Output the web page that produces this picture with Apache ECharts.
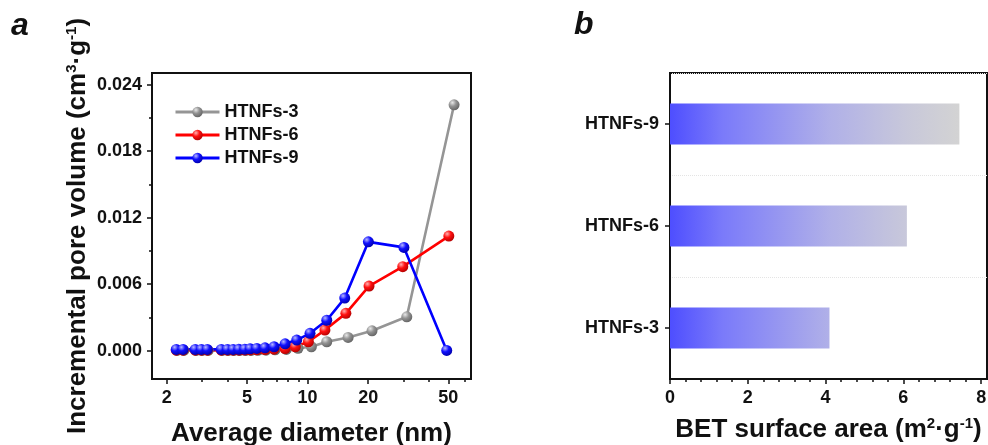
<!DOCTYPE html>
<html>
<head>
<meta charset="utf-8">
<script src="https://cdn.jsdelivr.net/npm/echarts@6/dist/echarts.min.js"></script>
<style>
html,body{margin:0;padding:0;background:#fff;}
#chart{width:988px;height:445px;}
</style>
</head>
<body>
<div id="chart"></div>
<script>
// Panel a: BJH pore size distribution, average pore diameter (nm) vs incremental pore volume
const diamHTNFs3 = [2.25, 2.43, 2.8, 3.0, 3.21, 3.77, 4.04, 4.31, 4.61, 4.93, 5.25, 5.67, 6.22, 6.9, 7.84, 8.97, 10.45, 12.46, 15.9, 20.9, 31.1, 53.4];
const volHTNFs3  = [0.00003, 0.00003, 0.00003, 0.00003, 0.00003, 0.00003, 0.00003, 0.00003, 0.00003, 0.00003, 0.00003, 0.00004, 0.00005, 0.00008, 0.00012, 0.00022, 0.00036, 0.00081, 0.00120, 0.00180, 0.00306, 0.02218];

const diamHTNFs6 = [2.23, 2.41, 2.77, 2.97, 3.18, 3.73, 4.0, 4.27, 4.56, 4.88, 5.19, 5.6, 6.15, 6.82, 7.74, 8.7, 10.1, 12.2, 15.5, 20.2, 29.7, 50.3];
const volHTNFs6  = [0.00005, 0.00005, 0.00005, 0.00005, 0.00005, 0.00005, 0.00005, 0.00005, 0.00005, 0.00006, 0.00007, 0.00008, 0.00010, 0.00014, 0.00020, 0.00036, 0.00081, 0.00186, 0.00337, 0.00583, 0.00758, 0.01034];

const diamHTNFs9 = [2.23, 2.41, 2.77, 2.97, 3.18, 3.73, 4.0, 4.27, 4.56, 4.88, 5.19, 5.6, 6.15, 6.82, 7.74, 8.84, 10.29, 12.46, 15.3, 20.05, 30.1, 49.1];
const volHTNFs9  = [0.00012, 0.00012, 0.00012, 0.00012, 0.00012, 0.00012, 0.00012, 0.00012, 0.00013, 0.00014, 0.00017, 0.00021, 0.00026, 0.00036, 0.00062, 0.00096, 0.00157, 0.00275, 0.00475, 0.00982, 0.00932, 0.00003];

const diamTicks      = [2, 5, 10, 20, 50];
const diamMinorTicks = [3, 4, 6, 7, 8, 9, 30, 40, 60];
const volTicks       = [0, 0.006, 0.012, 0.018, 0.024];
const volMinorTicks  = [0.003, 0.009, 0.015, 0.021];

// Panel b: BET specific surface area (m2/g)
const samples = ['HTNFs-3', 'HTNFs-6', 'HTNFs-9'];
const betArea = [4.10, 6.09, 7.44];
const areaTicks      = [0, 2, 4, 6, 8];
const areaMinorTicks = [0.4, 0.8, 1.2, 1.6, 2.4, 2.8, 3.2, 3.6, 4.4, 4.8, 5.2, 5.6, 6.4, 6.8, 7.2, 7.6];

const FONT = '"Liberation Sans", Arial, sans-serif';
const INK = '#111111';

function pairs(xs, ys) { return xs.map((x, i) => [x, ys[i]]); }

function sphere(light, base, dark) {
  return new echarts.graphic.RadialGradient(0.35, 0.3, 0.75, [
    { offset: 0, color: light },
    { offset: 0.45, color: base },
    { offset: 1, color: dark }
  ]);
}

const tickLabel = { color: INK, fontFamily: FONT, fontWeight: 'bold', fontSize: 18 };
const nameRich = {
  a: { fontFamily: FONT, fontWeight: 'bold', fontSize: 26, color: INK },
  s: { fontFamily: FONT, fontWeight: 'bold', fontSize: 15, color: INK, verticalAlign: 'top', padding: [0, 0, 13, 0] }
};
const axisLine = { show: true, onZero: false, lineStyle: { color: INK, width: 2 } };
const majorTick = (vals) => ({ show: true, customValues: vals, length: 5, lineStyle: { color: INK, width: 1.5 } });
const minorTickAxis = (vals) => ({ show: true, customValues: vals, length: 3, lineStyle: { color: INK, width: 1.5 } });

function lineSeries(name, xs, ys, lineColor, ball) {
  return {
    name: name,
    type: 'line',
    xAxisIndex: 0,
    yAxisIndex: 0,
    data: pairs(xs, ys),
    symbol: 'circle',
    symbolSize: 11,
    lineStyle: { color: lineColor, width: 2.6 },
    itemStyle: { color: ball },
    emphasis: { disabled: true },
    animation: false
  };
}

const chart = echarts.init(document.getElementById('chart'), null, { renderer: 'canvas' });

const option = {
  animation: false,
  backgroundColor: '#ffffff',
  graphic: [
    { type: 'text', left: 11, top: 10, style: { text: 'a', fill: INK, font: 'italic bold 32px ' + FONT } },
    { type: 'text', left: 574, top: 9, style: { text: 'b', fill: INK, font: 'italic bold 32px ' + FONT } }
  ],
  grid: [
    { left: 152, right: 517, top: 73, bottom: 66, outerBoundsMode: 'none', show: true, borderColor: INK, borderWidth: 2, backgroundColor: 'transparent' },
    { left: 670, right: 1, top: 73, bottom: 66, outerBoundsMode: 'none', show: true, borderColor: INK, borderWidth: 2, backgroundColor: 'transparent' }
  ],
  legend: {
    left: 174, top: 103, orient: 'vertical', padding: 0,
    itemWidth: 44, itemHeight: 13, itemGap: 5,
    lineStyle: { width: 3 },
    textStyle: { color: INK, fontFamily: FONT, fontWeight: 'bold', fontSize: 18 },
    data: ['HTNFs-3', 'HTNFs-6', 'HTNFs-9']
  },
  xAxis: [
    {
      type: 'log', gridIndex: 0, logBase: 10, min: 1.69, max: 64.8, position: 'bottom',
      axisLine: axisLine,
      axisTick: majorTick(diamTicks),
      axisLabel: { customValues: diamTicks, formatter: v => String(Math.round(v)), margin: 10, ...tickLabel },
      splitLine: { show: false }, minorTick: { show: false },
      name: 'Average diameter (nm)', nameLocation: 'middle', nameGap: 42,
      nameTextStyle: { fontFamily: FONT, fontWeight: 'bold', fontSize: 26, color: INK }
    },
    {
      type: 'log', gridIndex: 0, logBase: 10, min: 1.69, max: 64.8, position: 'bottom',
      axisLine: { show: false, onZero: false },
      axisTick: minorTickAxis(diamMinorTicks),
      axisLabel: { show: false }, splitLine: { show: false }
    },
    {
      type: 'value', gridIndex: 1, min: 0, max: 8.15, position: 'bottom',
      axisLine: axisLine,
      axisTick: majorTick(areaTicks),
      axisLabel: { customValues: areaTicks, margin: 10, ...tickLabel },
      splitLine: { show: false },
      name: '{a|BET surface area (m}{s|2}{a|·g}{s|-1}{a|)}', nameLocation: 'middle', nameGap: 37,
      nameTextStyle: { rich: nameRich }
    },
    {
      type: 'value', gridIndex: 1, min: 0, max: 8.15, position: 'bottom',
      axisLine: { show: false, onZero: false },
      axisTick: minorTickAxis(areaMinorTicks),
      axisLabel: { show: false }, splitLine: { show: false }
    }
  ],
  yAxis: [
    {
      type: 'value', gridIndex: 0, min: -0.00255, max: 0.02505, position: 'left',
      axisLine: axisLine,
      axisTick: majorTick(volTicks),
      axisLabel: { customValues: volTicks, formatter: v => v.toFixed(3), margin: 10, ...tickLabel },
      splitLine: { show: false },
      name: '{a|Incremental pore volume (cm}{s|3}{a|·g}{s|-1}{a|)}', nameLocation: 'middle', nameGap: 60,
      nameRotate: 90,
      nameTextStyle: { rich: nameRich }
    },
    {
      type: 'value', gridIndex: 0, min: -0.00255, max: 0.02505, position: 'left',
      axisLine: { show: false, onZero: false },
      axisTick: minorTickAxis(volMinorTicks),
      axisLabel: { show: false }, splitLine: { show: false }
    },
    {
      type: 'category', gridIndex: 1, data: samples, position: 'left',
      axisLine: axisLine,
      axisTick: { show: true, alignWithLabel: true, length: 5, lineStyle: { color: INK, width: 1.5 } },
      axisLabel: { margin: 11, ...tickLabel },
      splitLine: { show: true, lineStyle: { color: '#e4e4e4', type: 'dotted', width: 1 } }
    }
  ],
  series: [
    lineSeries('HTNFs-3', diamHTNFs3, volHTNFs3, '#959595', sphere('#e8e8e8', '#939393', '#626262')),
    lineSeries('HTNFs-6', diamHTNFs6, volHTNFs6, '#ff0000', sphere('#ffb0b0', '#ff1010', '#b00000')),
    lineSeries('HTNFs-9', diamHTNFs9, volHTNFs9, '#0000ff', sphere('#b8b8ff', '#1010ff', '#0000a8')),
    {
      name: 'BET', type: 'bar', xAxisIndex: 2, yAxisIndex: 2,
      data: betArea, barWidth: '40%',
      itemStyle: { color: '#9a9af0' },
      emphasis: { disabled: true },
      animation: false
    }
  ]
};

chart.setOption(option);

// Shade the bars with one horizontal gradient shared across the plot, from value 0 to the largest bar
const x0 = chart.convertToPixel({ xAxisIndex: 2 }, 0);
const x1 = chart.convertToPixel({ xAxisIndex: 2 }, Math.max(...betArea));
chart.setOption({
  series: [{}, {}, {}, {
    itemStyle: {
      color: new echarts.graphic.LinearGradient(x0, 0, x1, 0, [
        { offset: 0, color: '#4e4eff' },
        { offset: 0.18, color: '#7a7afa' },
        { offset: 0.55, color: '#b0b0e8' },
        { offset: 0.82, color: '#c8c8da' },
        { offset: 1, color: '#d3d3d3' }
      ], true)
    }
  }]
});
</script>
</body>
</html>
